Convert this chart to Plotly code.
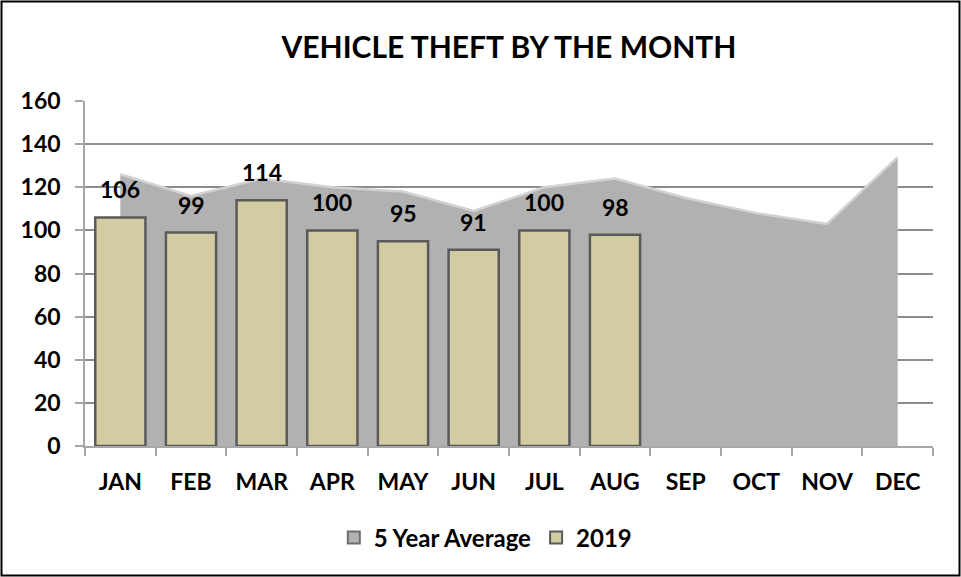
import plotly.graph_objects as go

months = ["JAN", "FEB", "MAR", "APR", "MAY", "JUN", "JUL", "AUG", "SEP", "OCT", "NOV", "DEC"]
avg_5yr = [126, 116, 124, 120, 118, 109, 120, 124, 115, 108, 103, 134]
months_2019 = ["JAN", "FEB", "MAR", "APR", "MAY", "JUN", "JUL", "AUG"]
vals_2019 = [106, 99, 114, 100, 95, 91, 100, 98]
y_ticks = [0, 20, 40, 60, 80, 100, 120, 140, 160]

W, H = 961, 577
ML, MR, MT, MB = 85, 28, 101, 131
PW, PH = W - ML - MR, H - MT - MB

FONT = "Lato"
AREA = "#b1b1b1"
BAR = "#d3cca3"

fig = go.Figure()
# area on the base subplot, so it sits behind the bars
fig.add_trace(go.Scatter(
    x=months, y=avg_5yr, name="5 Year Average", mode="lines",
    fill="tozeroy", fillcolor=AREA,
    line=dict(color="#d2d2d2", width=2.5),
    showlegend=False, xaxis="x", yaxis="y",
))
# legend swatch for the area series (square like the reference)
fig.add_trace(go.Scatter(
    x=[None], y=[None], name="5 Year Average", mode="markers",
    marker=dict(symbol="square", size=15, color=AREA, line=dict(color="#6e6e6e", width=1)),
    xaxis="x", yaxis="y2", showlegend=True,
))
fig.add_trace(go.Bar(
    x=months_2019, y=vals_2019, name="2019",
    marker=dict(color=BAR, line=dict(color="#5a5a5a", width=2.5)),
    xaxis="x", yaxis="y2",
))

for m, v in zip(months_2019, vals_2019):
    fig.add_annotation(x=m, y=v, xref="x", yref="y", text=str(v), showarrow=False,
                       yanchor="middle", yshift=28,
                       font=dict(family=FONT, size=23, color="#000000", weight="bold"))

def px_x(p):
    return (p - ML) / PW

def px_y(p):
    return (H - MB - p) / PH

fig.add_shape(type="rect", xref="paper", yref="paper",
              x0=px_x(1.5), x1=px_x(959.5), y0=px_y(575.5), y1=px_y(1.5),
              line=dict(color="#000000", width=2), layer="below")

tickfont = dict(family=FONT, size=23, color="#000000", weight="bold")

fig.update_layout(
    width=W, height=H,
    margin=dict(l=ML, r=MR, t=MT, b=MB, autoexpand=False),
    paper_bgcolor="white", plot_bgcolor="white",
    title=dict(text="<b>VEHICLE THEFT BY THE MONTH</b>", x=0.5, xref="paper",
               y=1 - 47 / H, yanchor="middle",
               font=dict(family=FONT, size=30, color="#000000")),
    bargap=0.29,
    showlegend=True,
    legend=dict(orientation="h", x=0.505, xanchor="center", xref="container",
                y=1 - 538 / H, yanchor="middle", yref="container",
                font=dict(family=FONT, size=24, color="#000000", weight="bold"),
                itemsizing="constant", traceorder="normal", itemwidth=30),
    xaxis=dict(
        categoryorder="array", categoryarray=months,
        range=[-0.5, 11.5],
        showgrid=False, showline=True, linecolor="#a6a6a6", linewidth=1.5,
        ticks="outside", ticklen=8, tickcolor="#a6a6a6", tickwidth=1.5,
        tickson="boundaries", tickfont=tickfont, ticklabelstandoff=15,
        fixedrange=True,
    ),
    yaxis=dict(
        range=[0, 160], tickvals=y_ticks,
        showgrid=True, gridcolor="#8c8c8c", gridwidth=1.5,
        showline=True, linecolor="#a6a6a6", linewidth=1.5,
        ticks="outside", ticklen=8, tickcolor="#a6a6a6", tickwidth=1.5,
        tickfont=tickfont, ticklabelstandoff=10, zeroline=False, fixedrange=True,
    ),
    yaxis2=dict(
        overlaying="y", range=[0, 160], visible=False, fixedrange=True,
    ),
)

fig.write_html("out.html", config={"displayModeBar": False},
               post_script="document.body.style.margin='0';")
